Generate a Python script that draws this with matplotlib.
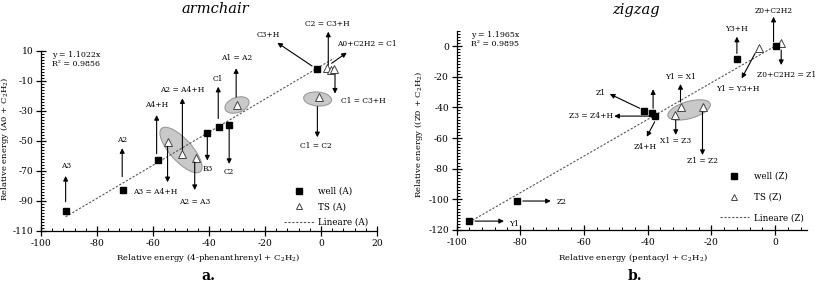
import matplotlib
matplotlib.use("Agg")
import matplotlib.pyplot as plt
from matplotlib.patches import Ellipse
from matplotlib.lines import Line2D
import matplotlib.transforms as mtransforms
from matplotlib.ticker import MultipleLocator, FixedLocator
import numpy as np

plt.rcParams['font.family'] = ['DejaVu Serif']
plt.rcParams['mathtext.fontset'] = 'dejavuserif'
plt.rcParams['axes.unicode_minus'] = False

# ---------------- data: armchair (A) ----------------
wellA_x = [-91.2, -70.6, -58.3, -40.6, -36.4, -32.8, -1.3]
wellA_y = [-96.6, -82.7, -62.7, -44.9, -40.9, -39.1, -2.2]
tsA_x = [-54.6, -49.5, -44.5, -30.0, -0.8, 2.3, 3.6, 4.6]
tsA_y = [-50.8, -58.9, -61.5, -26.0, -20.7, -1.6, -2.4, -2.2]
slopeA = 1.1022
r2A = 0.9856

# ---------------- data: zigzag (Z) ----------------
wellZ_x = [-96.1, -81.1, -41.3, -38.5, -37.6, -12.0, 0.2]
wellZ_y = [-114.2, -101.1, -42.4, -43.6, -45.7, -8.7, 0.2]
tsZ_x = [-5.2, 1.9, -29.5, -22.7, -31.4]
tsZ_y = [-1.5, 1.8, -39.6, -39.6, -45.0]
slopeZ = 1.1965
r2Z = 0.9895

# annotations: (start_x, start_y, tip_x, tip_y, label, label_x, label_y, ha)
annA = [
    (-91.2, -90.5, -91.2, -73.3, "A3", -91.2, -66.5, "center"),
    (-71.0, -73.8, -71.0, -54.8, "A2", -71.0, -49.0, "center"),
    (-58.7, -58.5, -58.7, -32.7, "A4+H", -58.7, -26.0, "center"),
    (-49.5, -56.0, -49.5, -21.5, "A2 = A4+H", -49.5, -16.0, "center"),
    (-36.7, -35.0, -36.7, -13.8, "C1", -37.0, -8.8, "center"),
    (-30.3, -20.7, -30.3, -1.5, "A1 = A2", -30.0, 5.3, "center"),
    (-3.2, 0.0, -15.6, 15.5, "C3+H", -18.8, 20.7, "center"),
    (2.6, 0.7, 2.6, 22.9, "C2 = C3+H", 2.2, 27.8, "center"),
    (3.8, 1.8, 9.2, 8.9, "A0+C2H2 = C1", 16.3, 15.0, "center"),
    (5.0, -6.0, 5.0, -18.4, "C1 = C3+H", 7.0, -23.5, "left"),
    (-1.3, -27.0, -1.3, -47.5, "C1 = C2", -2.0, -53.3, "center"),
    (-40.6, -45.0, -40.6, -63.0, "B3", -40.3, -68.4, "center"),
    (-32.8, -39.0, -32.8, -65.3, "C2", -32.8, -71.0, "center"),
    (-54.8, -53.5, -54.8, -77.5, "A3 = A4+H", -59.2, -84.3, "center"),
    (-45.1, -64.0, -45.1, -82.7, "A2 = A3", -45.1, -90.5, "center"),
]
annZ = [
    (-94.2, -114.2, -85.1, -114.2, "Y1", -83.4, -116.1, "left"),
    (-79.2, -101.1, -70.4, -101.1, "Z2", -68.5, -101.6, "left"),
    (-42.5, -40.6, -51.9, -31.3, "Z1", -53.3, -30.9, "right"),
    (-37.8, -45.7, -50.5, -45.7, "Z3 = Z4+H", -51.0, -45.7, "right"),
    (-38.3, -40.6, -38.3, -28.2, "", 0, 0, "center"),
    (-37.8, -49.4, -40.3, -59.2, "Z4+H", -40.8, -66.1, "center"),
    (-29.7, -36.5, -29.7, -24.8, "Y1 = X1", -29.7, -20.0, "center"),
    (-31.2, -48.5, -31.2, -58.0, "X1 = Z3", -31.1, -62.2, "center"),
    (-22.8, -43.0, -22.8, -71.1, "Z1 = Z2", -22.8, -75.0, "center"),
    (-6.3, -4.8, -10.5, -21.1, "Y1 = Y3+H", -18.5, -28.3, "left"),
    (-12.0, -4.8, -12.0, 6.1, "Y3+H", -12.0, 10.9, "center"),
    (-0.5, 2.8, -0.5, 19.1, "Z0+C2H2", -0.3, 22.8, "center"),
    (1.9, -2.6, 1.9, -12.4, "Z0+C2H2 = Z1", 12.8, -18.9, "right"),
]
# ellipses: (center_x, center_y, width_px, height_px, angle)
ellA = [(-50.0, -56.0, 58, 22, -48), (-30.0, -26.0, 25, 15, 20), (-1.2, -22.0, 14, 28, 85)]
ellZ = [(-27.0, -41.7, 44, 17, 16)]

fig = plt.figure(figsize=(8.17, 2.82), dpi=100)
axA = fig.add_axes([41/817, 1-231/282, 336/817, 180/282])
axZ = fig.add_axes([456.5/817, 1-230/282, 350.5/817, 199.3/282])

FS = 6.6      # tick labels
AXFS = 6.1    # axis labels
LFS = 5.4     # annotation labels
EQFS = 5.7
LEGFS = 6.3


def draw(ax, wx, wy, tx, ty, slope, r2, ann, ells, tag, xlim, ylim,
         yticks, xlabel, ylabel, eqx, eqy, legsp, legbb):
    ax.set_xlim(*xlim)
    ax.set_ylim(*ylim)
    for s in ['top', 'right']:
        ax.spines[s].set_visible(False)
    for s in ['left', 'bottom']:
        ax.spines[s].set_linewidth(0.9)
    ax.xaxis.set_major_locator(MultipleLocator(20))
    ax.xaxis.set_minor_locator(MultipleLocator(4))
    ax.yaxis.set_major_locator(FixedLocator(yticks))
    ax.yaxis.set_minor_locator(MultipleLocator(2))
    ax.tick_params(which='major', direction='inout', length=7, width=0.9, labelsize=FS, pad=2)
    ax.tick_params(which='minor', direction='in', length=2.5, width=0.7)
    # ellipses in pixel units
    for cx, cy, w, h, a in ells:
        tr = fig.dpi_scale_trans + mtransforms.ScaledTranslation(cx, cy, ax.transData)
        e = Ellipse((0, 0), w/100, h/100, angle=a, transform=tr,
                    facecolor='#c9c9c9', edgecolor='#9a9a9a', lw=0.8, zorder=1)
        ax.add_patch(e)
    allx = list(wx) + list(tx)
    xs = np.array([min(allx), max(allx)])
    ax.plot(xs, slope*xs, linestyle=(0, (2, 1.5)), color='#555555', lw=0.8, zorder=2)
    ax.plot(wx, wy, 's', color='black', ms=5, zorder=4, clip_on=False)
    ax.plot(tx, ty, '^', mfc='white', mec='#444444', mew=0.7, ms=6, zorder=3, clip_on=False)
    for sx, sy, ex, ey, lab, lx, ly, ha in ann:
        ax.annotate('', xy=(ex, ey), xytext=(sx, sy),
                    arrowprops=dict(arrowstyle='-|>', color='black', lw=0.8,
                                    mutation_scale=7, shrinkA=0, shrinkB=0),
                    annotation_clip=False, zorder=5)
        if lab:
            ax.text(lx, ly, lab, fontsize=LFS, ha=ha, va='center', clip_on=False)
    ax.text(eqx, eqy, f"y = {slope:.4f}x\nR² = {r2:.4f}", fontsize=EQFS,
            ha='left', va='top', linespacing=1.25)
    h1 = Line2D([], [], marker='s', color='black', ls='none', ms=5)
    h2 = Line2D([], [], marker='^', mfc='white', mec='#444444', mew=0.7, ls='none', ms=5)
    h3 = Line2D([], [], color='#555555', ls=(0, (2, 1.5)), lw=0.8)
    ax.legend([h1, h2, h3], [f"well ({tag})", f"TS ({tag})", f"Lineare ({tag})"],
              frameon=False, loc='lower right', bbox_to_anchor=legbb, borderaxespad=0,
              fontsize=LEGFS, handlelength=3.4, handletextpad=0.5, labelspacing=legsp)
    ax.set_xlabel(xlabel, fontsize=AXFS)
    ax.set_ylabel(ylabel, fontsize=AXFS)


draw(axA, wellA_x, wellA_y, tsA_x, tsA_y, slopeA, r2A, annA, ellA, 'A',
     (-100, 20), (-110, 10), [10, -10, -30, -50, -70, -90, -110],
     r"Relative energy (4-phenanthrenyl + C$_2$H$_2$)",
     r"Relative energy (A0 + C$_2$H$_2$)", -96, 10.0, 0.72, (0.985, 0.005))
draw(axZ, wellZ_x, wellZ_y, tsZ_x, tsZ_y, slopeZ, r2Z, annZ, ellZ, 'Z',
     (-100, 10), (-120, 10), [0, -20, -40, -60, -80, -100, -120],
     r"Relative energy (pentacyl + C$_2$H$_2$)",
     r"Relative energy ((Z0 + C$_2$H$_2$)", -95.5, 10.0, 1.35, (1.0, 0.02))

axA.xaxis.set_label_coords(0.497, -0.118)
axA.yaxis.set_label_coords(-0.089, 0.51)
axZ.xaxis.set_label_coords(0.504, -0.108)
axZ.yaxis.set_label_coords(-0.09, 0.48)

fig.text(215.5/817, 1-9/282, "armchair", fontsize=10.5, style='italic', ha='center', va='center')
fig.text(635.5/817, 1-10/282, "zigzag", fontsize=10.5, style='italic', ha='center', va='center')
fig.text(208/817, 1-276/282, "a.", fontsize=10, fontweight='bold', ha='center', va='center')
fig.text(634.5/817, 1-276/282, "b.", fontsize=10, fontweight='bold', ha='center', va='center')

fig.savefig("out.png", dpi=100)
